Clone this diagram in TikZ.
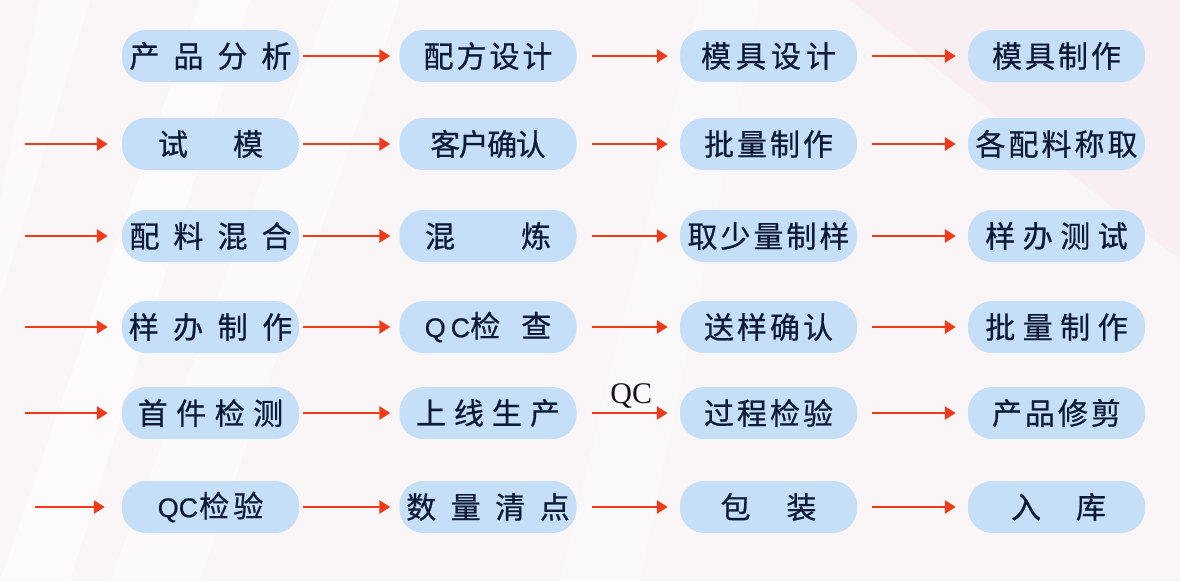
\documentclass[tikz,border=0pt]{standalone}
\usepackage{fontspec}
\newfontfamily\cjk[FakeBold=0.7]{Noto Sans CJK SC}
\newfontfamily\latf[FakeBold=0.7]{Liberation Sans}
\newfontfamily\qcfont{Liberation Serif}
\usetikzlibrary{arrows.meta}
\definecolor{boxblue}{RGB}{197,223,248}
\definecolor{txtc}{RGB}{12,26,56}
\definecolor{arrc}{RGB}{240,58,24}
\definecolor{bgc}{RGB}{250,246,247}
\definecolor{pinkc}{RGB}{249,238,241}
\makeatletter
\newcommand\spreadtext[2]{\def\sp@w{#1}\makebox[0pt][c]{\@tfor\sp@c:=#2\do{\makebox[\sp@w][c]{\sp@c}}}}
\makeatother
\newcommand\zw[1]{\makebox[0pt][c]{#1}}
\tikzset{
  stepbox/.style={fill=boxblue, rounded corners=24pt, minimum width=177pt,
    minimum height=52pt, inner sep=0pt, text=txtc,
    font=\cjk\fontsize{30}{30}\selectfont},
  flow/.style={draw=arrc, line width=2.6pt, -{Triangle[length=11pt,width=13pt]}},
  gapA/.style={shorten <=4pt, shorten >=9pt},
  gapB/.style={shorten <=15pt, shorten >=12pt},
  gapC/.style={shorten <=15pt, shorten >=12pt},
  gapL/.style={shorten >=14pt},
  qclabel/.style={font=\qcfont\fontsize{30}{30}\selectfont, text={rgb,255:red,20;green,20;blue,30}}
}
\begin{document}
\begin{tikzpicture}[x=1pt,y=-1pt]
\useasboundingbox (0,0) rectangle (1180,581);
% background
\fill[bgc] (0,0) rectangle (1180,581);
\fill[pinkc] (850,0) -- (1180,0) -- (1180,260) -- cycle;
\fill[white,opacity=0.5] (0,581) -- (70,581) -- (250,0) -- (200,0) -- cycle;
\fill[white,opacity=0.4] (110,581) -- (200,581) -- (400,0) -- (330,0) -- cycle;
\fill[white,opacity=0.3] (560,581) -- (640,581) -- (760,0) -- (700,0) -- cycle;
\fill[white,opacity=0.35] (0,200) -- (0,300) -- (90,0) -- (40,0) -- cycle;

% row 1
\node[stepbox] (a1) at (210.5,56) {\spreadtext{44pt}{产品分析}};
\node[stepbox] (b1) at (488,56) {\spreadtext{33pt}{配方设计}};
\node[stepbox] (c1) at (768.5,56) {\spreadtext{35pt}{模具设计}};
\node[stepbox] (d1) at (1056.5,56) {\spreadtext{33pt}{模具制作}};
% row 2
\node[stepbox] (a2) at (210.5,144) {\spreadtext{75pt}{试模}};
\node[stepbox] (b2) at (488,144) {\spreadtext{28.5pt}{客户确认}};
\node[stepbox] (c2) at (768.5,144) {\spreadtext{33pt}{批量制作}};
\node[stepbox] (d2) at (1056.5,144) {\spreadtext{33pt}{各配料称取}};
% row 3
\node[stepbox] (a3) at (210.5,236) {\spreadtext{44pt}{配料混合}};
\node[stepbox] (b3) at (488,236) {\spreadtext{96pt}{混炼}};
\node[stepbox] (c3) at (768.5,236) {\spreadtext{33pt}{取少量制样}};
\node[stepbox] (d3) at (1056.5,236) {\spreadtext{37.5pt}{样办测试}};
% row 4
\node[stepbox] (a4) at (210.5,327) {\spreadtext{44.5pt}{样办制作}};
\node[stepbox] (b4) at (488,327) {\zw{{\latf\fontsize{27}{27}\selectfont Q\hspace{5pt}C}检\hspace{21pt}查}};
\node[stepbox] (c4) at (768.5,327) {\spreadtext{33pt}{送样确认}};
\node[stepbox] (d4) at (1056.5,327) {\spreadtext{37.5pt}{批量制作}};
% row 5
\node[stepbox] (a5) at (210.5,413) {\spreadtext{38.5pt}{首件检测}};
\node[stepbox] (b5) at (488,413) {\spreadtext{38pt}{上线生产}};
\node[stepbox] (c5) at (768.5,413) {\spreadtext{33pt}{过程检验}};
\node[stepbox] (d5) at (1056.5,413) {\spreadtext{33pt}{产品修剪}};
% row 6
\node[stepbox] (a6) at (210.5,507) {\zw{{\latf\fontsize{27}{27}\selectfont QC}\hspace{1pt}检\hspace{4pt}验}};
\node[stepbox] (b6) at (488,507) {\spreadtext{44.5pt}{数量清点}};
\node[stepbox] (c6) at (768.5,507) {\spreadtext{66pt}{包装}};
\node[stepbox] (d6) at (1056.5,507) {\hspace{4pt}\spreadtext{65pt}{入库}};

% left free ends
\coordinate (l2) at (25,144);
\coordinate (l3) at (25,236);
\coordinate (l4) at (25,327);
\coordinate (l5) at (25,413);
\coordinate (l6) at (35,507);

% connectors
\foreach \r in {1,...,6}{
  \draw[flow,gapA] (a\r) -- (b\r);
  \draw[flow,gapC] (c\r) -- (d\r);
}
\foreach \r in {1,2,3,4,6}{
  \draw[flow,gapB] (b\r) -- (c\r);
}
\draw[flow,gapB] (b5) -- node[pos=0.5, anchor=base, yshift=10pt, xshift=3pt, qclabel] (qc) {QC} (c5);
\foreach \r in {2,3,4,5}{
  \draw[flow,gapL] (l\r) -- (a\r);
}
\draw[flow,shorten >=17pt] (l6) -- (a6);
\end{tikzpicture}
\end{document}
